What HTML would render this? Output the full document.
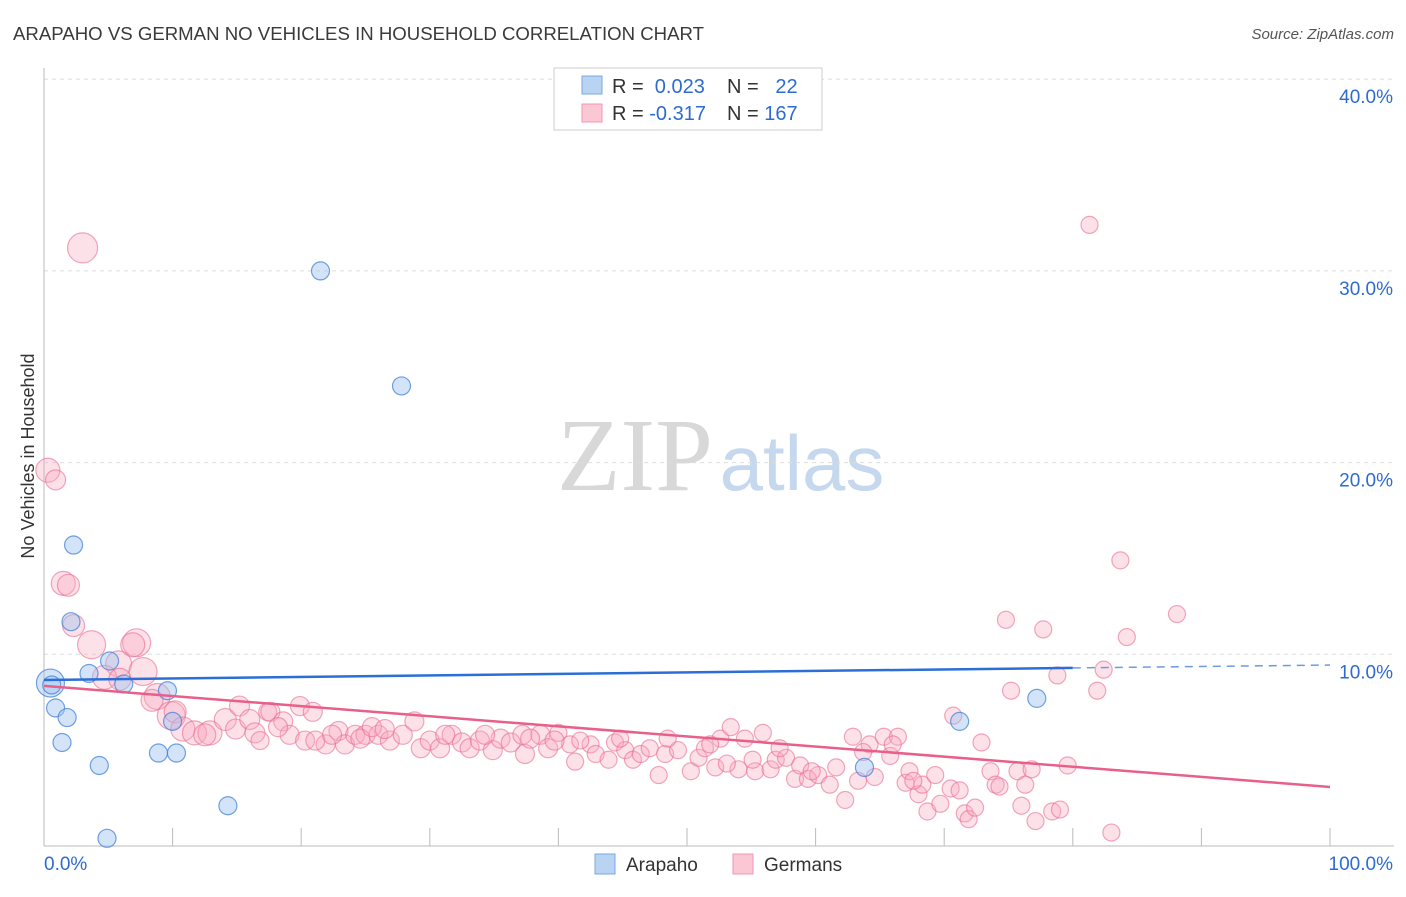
<!DOCTYPE html>
<html><head><meta charset="utf-8">
<style>
body{margin:0;background:#fff;font-family:"Liberation Sans",sans-serif;}
</style></head>
<body>
<svg id="chart" width="1406" height="892" viewBox="0 0 1406 892" xmlns="http://www.w3.org/2000/svg">
<text x="13" y="40" font-size="18" fill="#3a3a3a" textLength="691" lengthAdjust="spacingAndGlyphs">ARAPAHO VS GERMAN NO VEHICLES IN HOUSEHOLD CORRELATION CHART</text>
<text x="1394" y="39" font-size="15" fill="#555" font-style="italic" text-anchor="end">Source: ZipAtlas.com</text>
<text x="34" y="456" font-size="18" fill="#333" text-anchor="middle" transform="rotate(-90 34 456)">No Vehicles in Household</text>
<g>
<text x="635" y="490" font-size="104" fill="#d8d8d8" font-family="Liberation Serif,serif" text-anchor="middle">ZIP</text>
<text x="802" y="490" font-size="78" fill="#c5d8ee" text-anchor="middle">atlas</text>
</g>
<g id="grid"></g>
<g id="axes"></g>
<g id="points"></g>
<g id="trends"></g>
<g>
<rect x="554" y="68" width="268" height="62" fill="#fff" stroke="#ccc"/>
<rect x="582" y="76" width="20" height="18" fill="#b9d4f3" stroke="#7aa8e0"/>
<rect x="582" y="104" width="20" height="18" fill="#fbc7d4" stroke="#ee98b0"/>
<text x="612" y="93" font-size="20" fill="#333">R = <tspan fill="#2e6bd0">&#160;0.023</tspan></text>
<text x="727" y="93" font-size="20" fill="#333">N = <tspan fill="#2e6bd0">&#160;&#160;22</tspan></text>
<text x="612" y="120" font-size="20" fill="#333">R = <tspan fill="#2e6bd0">-0.317</tspan></text>
<text x="727" y="120" font-size="20" fill="#333">N = <tspan fill="#2e6bd0">167</tspan></text>
</g>
<g>
<rect x="595" y="854" width="20" height="20" fill="#b9d4f3" stroke="#7aa8e0"/>
<text x="626" y="871" font-size="19" fill="#333">Arapaho</text>
<rect x="733" y="854" width="20" height="20" fill="#fbc7d4" stroke="#ee98b0"/>
<text x="764" y="871" font-size="19" fill="#333">Germans</text>
</g>
</svg>
<script>
const yTicks=[10,20,30,40];
const yTickLabels=["10.0%","20.0%","30.0%","40.0%"];
const xEndLabels=["0.0%","100.0%"];
const blueX=[0.5,0.6,0.9,1.8,1.4,2.3,2.1,3.5,4.3,5.1,6.2,4.9,8.9,10.3,9.6,10.0,14.3,21.5,27.8,63.8,71.2,77.2];
const blueY=[8.5,8.4,7.2,6.7,5.4,15.7,11.7,9.0,4.2,9.65,8.45,0.4,4.85,4.85,8.1,6.5,2.1,30.0,24.0,4.1,6.5,7.7];
const blueR=[14,9,9,9,9,9,9,9,9,9,9,9,9,9,9,9,9,9,9,9,9,9];
const pinkX=[3.0,0.3,0.9,1.5,1.9,2.3,3.7,7.2,6.9,5.8,7.7,4.7,5.9,8.8,8.4,9.9,10.2,10.8,11.7,12.9,12.5,14.1,14.9,15.2,16.0,16.4,16.8,17.4,
17.6,18.6,19.9,20.9,19.1,20.3,21.9,22.9,23.4,24.2,25.0,26.0,26.9,27.9,28.8,29.3,30.0,30.8,31.7,32.5,33.1,33.9,34.9,35.5,36.3,37.2,37.4,38.6,39.2,40.0,40.9,41.3,42.5,42.9,43.9,44.4,45.2,45.8,46.4,47.1,47.8,48.3,49.3,50.3,50.9,51.4,52.2,52.6,53.4,54.0,54.5,55.3,55.9,56.5,56.9,57.7,58.4,58.8,59.4,60.2,61.1,61.6,62.3,62.9,63.3,64.2,64.6,65.3,65.8,66.4,67.0,67.3,68.0,68.3,68.7,69.3,69.7,70.5,70.7,71.2,71.6,71.9,72.9,73.6,74.0,74.3,74.8,75.2,75.7,76.3,76.8,77.1,77.7,78.4,79.0,78.8,79.6,81.9,81.3,82.4,83.0,83.7,84.2,88.1,
18.2,21.1,22.4,24.6,25.5,26.5,31.2,34.3,37.8,39.7,41.7,44.8,48.5,51.8,53.1,55.1,57.2,59.7,63.7,66.0,67.6,72.4,76.0];
const pinkY=[31.2,19.6,19.1,13.7,13.6,11.5,10.5,10.6,10.5,9.5,9.1,8.8,8.7,7.8,7.6,6.8,7.0,6.1,5.9,5.9,5.8,6.6,6.1,7.3,6.6,5.9,5.5,7.0,
7.0,6.5,7.3,7.0,5.8,5.5,5.3,6.0,5.3,5.8,5.8,5.8,5.5,5.8,6.5,5.1,5.5,5.1,5.8,5.4,5.1,5.5,5.0,5.6,5.4,5.8,4.8,5.8,5.1,5.9,5.3,4.4,5.3,4.8,4.5,5.4,5.0,4.5,4.8,5.1,3.7,4.8,5.0,3.9,4.6,5.1,4.1,5.6,6.2,4.0,5.6,3.9,5.9,4.0,4.5,4.6,3.5,4.2,3.5,3.7,3.2,4.1,2.4,5.7,3.4,5.3,3.6,5.7,4.7,5.7,3.3,3.9,2.7,3.2,1.8,3.7,2.2,3.0,6.8,2.9,1.7,1.4,5.4,3.9,3.2,3.1,11.8,8.1,3.9,3.2,4.0,1.3,11.3,1.8,1.9,8.9,4.2,8.1,32.4,9.2,0.7,14.9,10.9,12.1,
6.2,5.5,5.8,5.6,6.2,6.1,5.8,5.8,5.6,5.5,5.5,5.6,5.6,5.3,4.3,4.5,5.1,3.9,4.9,5.3,3.4,2.0,2.1];
const pinkR=[15,12,10,12,11,11,14,14,12,13,14,12,11,13,11,14,11,12,12,12,11,11,10,10,10,10,9,9];
const blueTrend=[8.66,9.29,9.44]; // at x=0, 80, 100
const pinkTrend=[8.35,3.08]; // at x=0, 100
const X0=44,X1=1330,Y0=846,PXPER10=191.7;
const sx=v=>X0+(X1-X0)*v/100;
const sy=v=>Y0-PXPER10*v/10;
const NS="http://www.w3.org/2000/svg";
function mk(tag,attrs,parent){const e=document.createElementNS(NS,tag);for(const k in attrs)e.setAttribute(k,attrs[k]);parent.appendChild(e);return e;}
const grid=document.getElementById('grid'),axes=document.getElementById('axes'),pts=document.getElementById('points'),tr=document.getElementById('trends');
yTicks.forEach((t,i)=>{
 const l=mk('line',{x1:44,x2:1394,y1:sy(t),y2:sy(t),stroke:'#ddd','stroke-dasharray':'4,4'},grid);
 
 
 const tx=mk('text',{x:1393,y:sy(t)+24,'font-size':19,fill:'#2e6bd0','text-anchor':'end'},axes);
 tx.textContent=yTickLabels[i];
 
 
});
const ya=mk('line',{x1:44,x2:44,y1:68,y2:846,stroke:'#bbb'},axes);


const xa=mk('line',{x1:44,x2:1394,y1:846,y2:846,stroke:'#bbb'},axes);


for(let i=1;i<=10;i++){
 const tk=mk('line',{x1:sx(i*10),x2:sx(i*10),y1:828,y2:846,stroke:'#bbb'},axes);
 
 
}
const xl0=mk('text',{x:44,y:870,'font-size':19,fill:'#2e6bd0'},axes);xl0.textContent=xEndLabels[0];


const xl1=mk('text',{x:1393,y:870,'font-size':19,fill:'#2e6bd0','text-anchor':'end'},axes);xl1.textContent=xEndLabels[1];


pinkX.forEach((x,i)=>{
 const r=pinkR[i]||(x<40?9.5:8.5);
 const c=mk('circle',{cx:sx(x),cy:sy(pinkY[i]),r:r,fill:'rgba(248,170,192,0.35)',stroke:'rgba(232,110,145,0.6)','stroke-width':1.2},pts);
 
 
});
blueX.forEach((x,i)=>{
 const c=mk('circle',{cx:sx(x),cy:sy(blueY[i]),r:blueR[i],fill:'rgba(160,195,240,0.45)',stroke:'rgba(70,130,215,0.75)','stroke-width':1.2},pts);
 
 
});
const b1=mk('line',{x1:sx(0),y1:sy(blueTrend[0]),x2:sx(80),y2:sy(blueTrend[1]),stroke:'#2b6fd6','stroke-width':2.5},tr);


const b2=mk('line',{x1:sx(80),y1:sy(blueTrend[1]),x2:sx(100),y2:sy(blueTrend[2]),stroke:'#6d9be0','stroke-width':1.5,'stroke-dasharray':'8,6'},tr);


const p1=mk('line',{x1:sx(0),y1:sy(pinkTrend[0]),x2:sx(100),y2:sy(pinkTrend[1]),stroke:'#e8608a','stroke-width':2.5},tr);


</script>
</body></html>
